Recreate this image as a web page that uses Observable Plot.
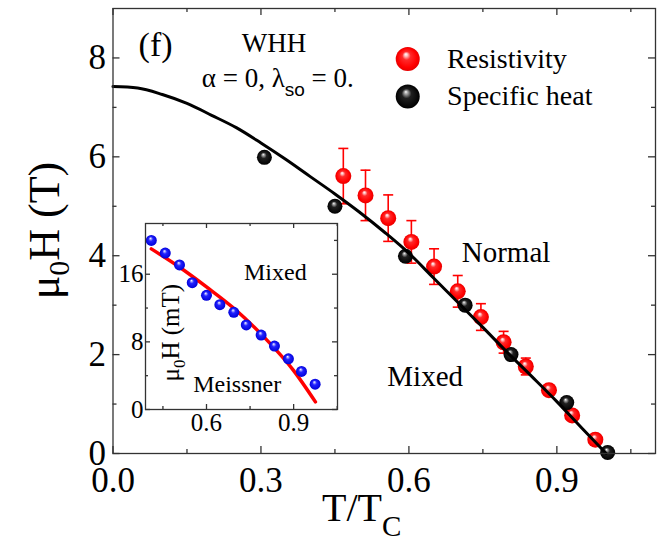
<!DOCTYPE html>
<html><head><meta charset="utf-8">
<script src="https://cdn.jsdelivr.net/npm/d3@7"></script>
<script src="https://cdn.jsdelivr.net/npm/@observablehq/plot@0.6"></script>
<style>
body{margin:0;background:#fff;}
#wrap{position:relative;width:662px;height:543px;overflow:hidden;}
#wrap svg{position:absolute;}
</style></head><body><div id="wrap"></div>
<script>
// ---- data ----
const whhT = [0, 0.05, 0.1, 0.15, 0.2, 0.25, 0.3, 0.35, 0.4, 0.45, 0.5, 0.55, 0.6, 0.65, 0.7, 0.75, 0.8, 0.85, 0.9, 0.95, 1.0];
const whhH = [7.42, 7.39, 7.26, 7.08, 6.84, 6.59, 6.28, 5.95, 5.60, 5.25, 4.88, 4.48, 4.05, 3.55, 3.05, 2.55, 2.04, 1.55, 1.05, 0.52, 0];

const resT   = [0.467, 0.512, 0.558, 0.605, 0.651, 0.699, 0.746, 0.792, 0.837, 0.884, 0.931, 0.978];
const resH   = [5.61, 5.22, 4.76, 4.28, 3.78, 3.28, 2.76, 2.25, 1.76, 1.28, 0.77, 0.28];
const resErr = [0.56, 0.51, 0.47, 0.43, 0.36, 0.32, 0.27, 0.22, 0.17, 0.10, 0.06, 0.03];

const heatT = [0.307, 0.450, 0.593, 0.714, 0.807, 0.920, 1.003];
const heatH = [5.99, 5.00, 3.99, 3.00, 2.00, 1.03, 0.02];

const insetT = [0.410, 0.458, 0.507, 0.551, 0.600, 0.646, 0.694, 0.737, 0.788, 0.834, 0.882, 0.927, 0.974];
const insetH = [20.0, 18.5, 17.1, 15.0, 13.5, 12.4, 11.5, 10.0, 8.8, 7.5, 6.0, 4.5, 3.0];
const insetFitT = [0.41, 0.5, 0.6, 0.7, 0.8, 0.9, 0.975];
const insetFitH = [19.0, 17.0, 14.5, 11.8, 8.5, 4.6, 0.9];

const xTicks = [0, 0.3, 0.6, 0.9];
const xMinor = [0.15, 0.45, 0.75, 1.05];
const yTicks = [0, 2, 4, 6, 8];
const yMinor = [1, 3, 5, 7];
const insetXTicks = [0.6, 0.9];
const insetXMinor = [0.45, 0.75, 1.05];
const insetYTicks = [0, 8, 16];
const insetYMinor = [4, 12, 20];
const legendLabels = ["Resistivity", "Specific heat"];

// ---- tables ----
const whh = whhT.map((t, i) => ({T: t, H: whhH[i]}));
const res = resT.map((t, i) => ({T: t, H: resH[i], lo: resH[i] - resErr[i], hi: resH[i] + resErr[i]}));
const heat = heatT.map((t, i) => ({T: t, H: heatH[i]}));
const ins = insetT.map((t, i) => ({T: t, H: insetH[i]}));
const insFit = insetFitT.map((t, i) => ({T: t, H: insetFitH[i]}));
const legend = [
  {label: legendLabels[0], H: 7.98, fill: "url(#gRed)"},
  {label: legendLabels[1], H: 7.22, fill: "url(#gBlack)"}
];

const serif = "'Liberation Serif', 'Times New Roman', serif";
const axisCol = "#333";
const W = 662, Hh = 543, mL = 112.5, mR = 7, mT = 8, mB = 90;
const fw = W - mL - mR, fh = Hh - mT - mB;

const capSym = {draw(ctx) { ctx.moveTo(-5, 0); ctx.lineTo(5, 0); }};

function frameTicks(xs, xm, ys, ym, w, h, big, small) {
  return [
    Plot.tickX(xs, {x: d => d, insetTop: h - big, stroke: axisCol, strokeWidth: 1.3}),
    Plot.tickX(xm, {x: d => d, insetTop: h - small, stroke: axisCol, strokeWidth: 1.3}),
    Plot.tickX(xs, {x: d => d, insetBottom: h - big, stroke: axisCol, strokeWidth: 1.3}),
    Plot.tickX(xm, {x: d => d, insetBottom: h - small, stroke: axisCol, strokeWidth: 1.3}),
    Plot.tickY(ys, {y: d => d, insetRight: w - big, stroke: axisCol, strokeWidth: 1.3}),
    Plot.tickY(ym, {y: d => d, insetRight: w - small, stroke: axisCol, strokeWidth: 1.3}),
    Plot.tickY(ys, {y: d => d, insetLeft: w - big, stroke: axisCol, strokeWidth: 1.3}),
    Plot.tickY(ym, {y: d => d, insetLeft: w - small, stroke: axisCol, strokeWidth: 1.3})
  ];
}

const main = Plot.plot({
  width: W, height: Hh,
  marginLeft: mL, marginRight: mR, marginTop: mT, marginBottom: mB,
  x: {domain: [0, 1.1]},
  y: {domain: [0, 9]},
  style: {fontFamily: serif, background: "white", overflow: "visible", color: "black"},
  marks: [
    ...frameTicks(xTicks, xMinor, yTicks, yMinor, fw, fh, 7, 4),
    Plot.ruleX(res, {x: "T", y1: "lo", y2: "hi", stroke: "#ff0000", strokeWidth: 1.6}),
    Plot.dot(res, {x: "T", y: "hi", symbol: capSym, fill: "none", stroke: "#ff0000", strokeWidth: 1.6}),
    Plot.dot(res, {x: "T", y: "lo", symbol: capSym, fill: "none", stroke: "#ff0000", strokeWidth: 1.6}),
    Plot.dot(res, {x: "T", y: "H", r: 8, fill: "url(#gRed)", stroke: null}),
    Plot.dot(heat, {x: "T", y: "H", r: 7.5, fill: "url(#gBlack)", stroke: null}),
    Plot.line(whh, {x: "T", y: "H", stroke: "black", strokeWidth: 3, curve: "monotone-x"}),
    Plot.dot(legend, {x: 0.5976, y: "H", r: 12, fill: "fill", stroke: null}),
    Plot.text(legend, {x: 0.6774, y: "H", text: "label", textAnchor: "start", lineAnchor: "middle", fontSize: 28, fill: "black"}),
    Plot.text(["(f)"], {x: 0.0863, y: 8.26, text: d => d, fontSize: 34, lineAnchor: "middle", fill: "black"}),
    Plot.text(["WHH"], {x: 0.3266, y: 8.29, text: d => d, fontSize: 27, lineAnchor: "middle", fill: "black"}),
    Plot.text(["Normal"], {x: 0.797, y: 4.07, text: d => d, fontSize: 29, lineAnchor: "middle", fill: "black"}),
    Plot.text(["Mixed"], {x: 0.633, y: 1.56, text: d => d, fontSize: 29, lineAnchor: "middle", fill: "black"}),
    Plot.axisX({ticks: xTicks, tickSize: 0, tickPadding: 14, fontSize: 35, tickFormat: d3.format(".1f"), label: null, fill: "black"}),
    Plot.axisY({ticks: yTicks, tickSize: 0, tickPadding: 7, fontSize: 35, label: null, fill: "black"}),
    Plot.frame({stroke: axisCol, strokeWidth: 1.3})
  ]
});

// gradients for sphere-like markers
const defs = d3.select(main).insert("defs", ":first-child");
function sphere(id, stops) {
  const g = defs.append("radialGradient").attr("id", id)
    .attr("cx", "0.5").attr("cy", "0.5").attr("r", "0.5").attr("fx", "0.42").attr("fy", "0.3");
  stops.forEach(([o, c]) => g.append("stop").attr("offset", o).attr("stop-color", c));
}
sphere("gRed", [[0, "#ffffff"], [0.12, "#ffc8c8"], [0.35, "#ff2a2a"], [0.8, "#ff0000"], [1, "#e60000"]]);
sphere("gBlack", [[0, "#ffffff"], [0.12, "#b0b0b0"], [0.4, "#202020"], [1, "#000000"]]);
sphere("gBlue", [[0, "#ffffff"], [0.12, "#b8b8ff"], [0.4, "#2222ff"], [1, "#0000d8"]]);

const sx = main.scale("x"), sy = main.scale("y");
const ms = d3.select(main);
// WHH parameters with subscript
const alpha = ms.append("text").attr("x", sx.apply(0.181)).attr("y", sy.apply(7.40))
  .attr("text-anchor", "start")
  .attr("font-family", serif).attr("font-size", 27).attr("fill", "black");
alpha.append("tspan").text("\u03B1 = 0, \u03BB");
alpha.append("tspan").attr("dy", 9).attr("font-family", "'Liberation Sans', Arial, sans-serif").attr("font-size", 19).text("so");
alpha.append("tspan").attr("dy", -9).text(" = 0.");

// y axis title
const yt = ms.append("text").attr("transform", `translate(${mL - 54},${mT + fh / 2}) rotate(-90)`)
  .attr("text-anchor", "middle").attr("font-family", serif).attr("font-size", 44).attr("fill", "black");
yt.append("tspan").text("\u03BC");
yt.append("tspan").attr("dy", 10).attr("font-size", 30).text("0");
yt.append("tspan").attr("dy", -10).text("H (T)");

// x axis title
const xt = ms.append("text").attr("x", 322).attr("y", 521)
  .attr("text-anchor", "start")
  .attr("font-family", serif).attr("font-size", 40).attr("fill", "black");
xt.append("tspan").text("T/T");
xt.append("tspan").attr("dy", 15).attr("font-size", 29).text("C");

document.getElementById("wrap").appendChild(main);

// ---- inset ----
const iW = 236, iH = 222, imL = 40, imR = 4, imT = 4, imB = 32;
const ifw = iW - imL - imR, ifh = iH - imT - imB;
const inset = Plot.plot({
  width: iW, height: iH,
  marginLeft: imL, marginRight: imR, marginTop: imT, marginBottom: imB,
  x: {domain: [0.39, 1.051]},
  y: {domain: [0, 22]},
  style: {fontFamily: serif, background: "transparent", overflow: "visible", color: "black"},
  marks: [
    Plot.frame({fill: "white", stroke: null}),
    ...frameTicks(insetXTicks, insetXMinor, insetYTicks, insetYMinor, ifw, ifh, 5, 3),
    Plot.line(insFit, {x: "T", y: "H", stroke: "#ff0000", strokeWidth: 3.5, curve: "monotone-x"}),
    Plot.dot(ins, {x: "T", y: "H", r: 5.5, fill: "url(#gBlue)", stroke: null}),
    Plot.text(["Mixed"], {x: 0.837, y: 16.24, text: d => d, fontSize: 24, lineAnchor: "middle", fill: "black"}),
    Plot.text(["Meissner"], {x: 0.7055, y: 2.95, text: d => d, fontSize: 24, lineAnchor: "middle", fill: "black"}),
    Plot.axisX({ticks: insetXTicks, tickSize: 0, tickPadding: 4, fontSize: 25, tickFormat: d3.format(".1f"), label: null, fill: "black"}),
    Plot.axisY({ticks: insetYTicks, tickSize: 0, tickPadding: 2, fontSize: 25, label: null, fill: "black"}),
    Plot.frame({stroke: axisCol, strokeWidth: 1.3})
  ]
});
const ix = inset.scale("x"), iy = inset.scale("y");
const iyt = d3.select(inset).append("text")
  .attr("transform", `translate(${ix.apply(0.507)},${iy.apply(9.02)}) rotate(-90)`)
  .attr("text-anchor", "middle").attr("font-family", serif).attr("font-size", 25).attr("fill", "black");
iyt.append("tspan").text("\u03BC");
iyt.append("tspan").attr("dy", 6).attr("font-size", 17).text("0");
iyt.append("tspan").attr("dy", -6).text("H (mT)");

inset.style.left = "105px";
inset.style.top = "219px";
document.getElementById("wrap").appendChild(inset);
</script>
</body></html>
